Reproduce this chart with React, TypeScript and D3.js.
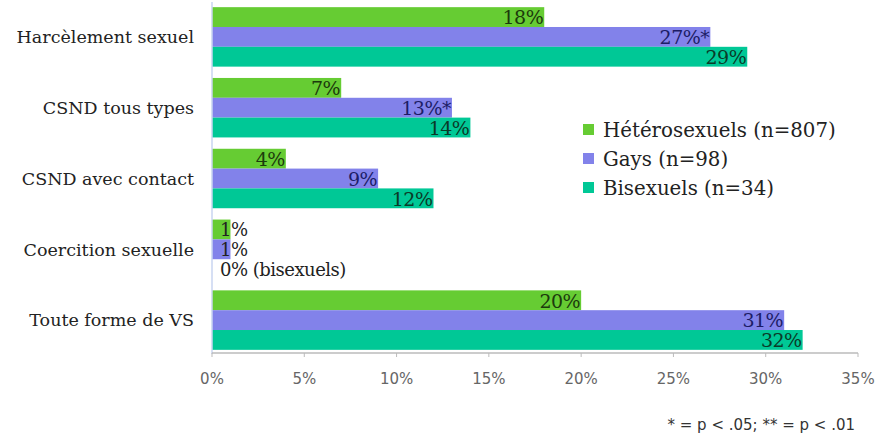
import React from "react";
import * as d3 from "d3";

const categories = [
  "Harcèlement sexuel",
  "CSND tous types",
  "CSND avec contact",
  "Coercition sexuelle",
  "Toute forme de VS",
];
const series = ["Hétérosexuels (n=807)", "Gays (n=98)", "Bisexuels (n=34)"];
const hetero = [18, 7, 4, 1, 20];
const gays = [27, 13, 9, 1, 31];
const bi = [29, 14, 12, 0, 32];
const gaysLabels = ["27%*", "13%*", "9%", "1%", "31%"];
const biLabels = ["29%", "14%", "12%", "0% (bisexuels)", "32%"];
const ticks = [0, 5, 10, 15, 20, 25, 30, 35];

const colors = ["#66cc33", "#8282ea", "#00c896"];
const textColors = ["#1c3a0c", "#1c1c66", "#0a3a28"];

const W = 881;
const H = 439;

export default function App() {
  const x = d3.scaleLinear().domain([0, 35]).range([212, 858]);
  const y = d3.scaleBand<string>().domain(categories).range([1.5, 355.5]).paddingInner(0.16).paddingOuter(0.08);
  const sub = d3.scaleBand<number>().domain([0, 1, 2]).range([0, y.bandwidth()]);
  const values = [hetero, gays, bi];
  const labels = [hetero.map((v) => `${v}%`), gaysLabels, biLabels];
  const serif = "'DejaVu Serif', serif";
  const sans = "'DejaVu Sans', sans-serif";

  return (
    <div style={{ position: "fixed", left: 0, top: 0 }}>
      <svg width={W} height={H} style={{ display: "block", background: "#fff" }}>
        {categories.map((c, i) => (
          <g key={c} transform={`translate(0,${y(c)})`}>
            {values.map((vals, s) => {
              const v = vals[i];
              const y0 = sub(s) as number;
              const small = v < 2;
              return (
                <g key={s}>
                  {v > 0 && (
                    <rect x={x(0)} y={y0} width={x(v) - x(0)} height={sub.bandwidth()} fill={colors[s]} />
                  )}
                  <text
                    x={small ? x(0) + 8 : x(v) - 1}
                    y={y0 + sub.bandwidth() / 2}
                    dy="0.38em"
                    textAnchor={small ? "start" : "end"}
                    fontFamily={serif}
                    fontSize={small ? 18 : 19}
                    letterSpacing={-0.5}
                    fill={small ? "#222" : textColors[s]}
                  >
                    {labels[s][i]}
                  </text>
                </g>
              );
            })}
            <text
              x={194}
              y={y.bandwidth() / 2}
              dy="0.36em"
              textAnchor="end"
              fontFamily={serif}
              fontSize={17.5}
              fill="#222"
            >
              {c}
            </text>
          </g>
        ))}
        <line x1={x(0)} x2={x(0)} y1={2} y2={354} stroke="#c8d4f0" strokeWidth={1.5} />
        <line x1={x(0)} x2={x(35)} y1={353} y2={353} stroke="#bbbbbb" strokeWidth={1.5} />
        {ticks.map((t) => (
          <g key={t}>
            <line x1={x(t)} x2={x(t)} y1={353} y2={357} stroke="#bbbbbb" />
            <text x={x(t)} y={384} textAnchor="middle" fontFamily={sans} fontSize={15} fill="#666">
              {`${t}%`}
            </text>
          </g>
        ))}
        {series.map((s, i) => (
          <g key={s} transform={`translate(583,${130 + i * 29})`}>
            <rect x={0} y={-6} width={11} height={11} fill={colors[i]} />
            <text x={20} y={0} dy="0.36em" fontFamily={serif} fontSize={19.8} fill="#222">
              {s}
            </text>
          </g>
        ))}
        <text x={855} y={430} textAnchor="end" fontFamily={sans} fontSize={15} fill="#333">
          * = p &lt; .05; ** = p &lt; .01
        </text>
      </svg>
    </div>
  );
}
